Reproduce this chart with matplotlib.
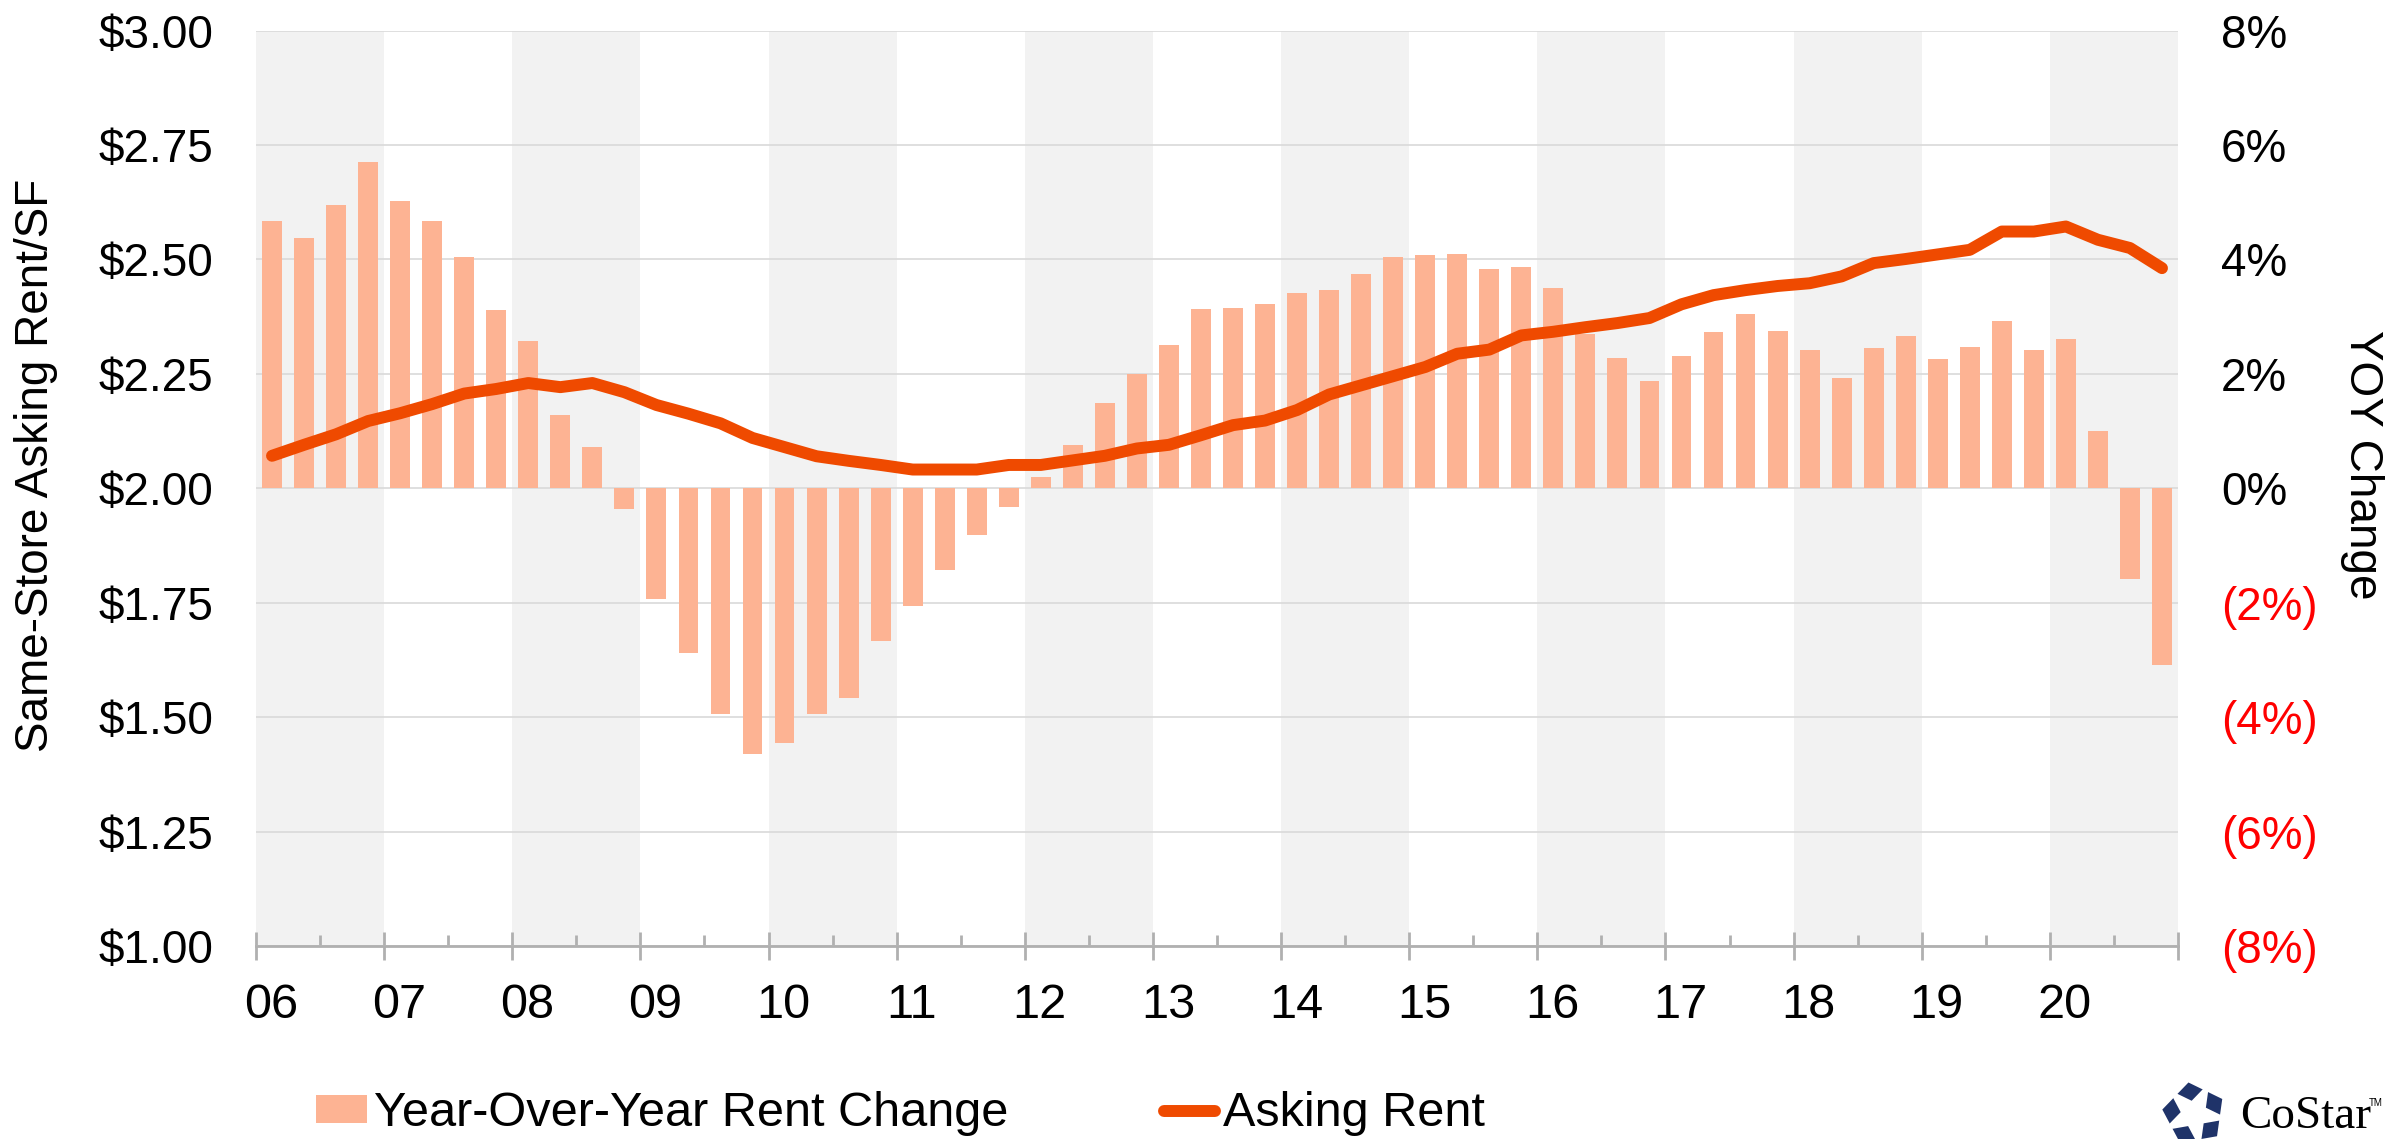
import numpy as np
import matplotlib.pyplot as plt
import matplotlib.transforms as mtransforms
from matplotlib.patches import Patch, Polygon
from matplotlib.lines import Line2D

plt.rcParams['font.family'] = ['Liberation Sans', 'DejaVu Sans']

years = ["06", "07", "08", "09", "10", "11", "12", "13", "14", "15",
         "16", "17", "18", "19", "20"]

# quarterly year-over-year rent change, %
yoy_change = [4.68, 4.37, 4.95, 5.70,
              5.03, 4.68, 4.04, 3.12,
              2.58, 1.28, 0.73, -0.37,
              -1.93, -2.88, -3.95, -4.64,
              -4.46, -3.95, -3.66, -2.67,
              -2.05, -1.43, -0.81, -0.32,
              0.20, 0.76, 1.49, 2.00,
              2.51, 3.13, 3.16, 3.22,
              3.41, 3.47, 3.74, 4.04,
              4.07, 4.10, 3.84, 3.86,
              3.50, 2.70, 2.28, 1.87,
              2.31, 2.74, 3.04, 2.75,
              2.42, 1.93, 2.46, 2.66,
              2.26, 2.47, 2.93, 2.42,
              2.61, 1.01, -1.58, -3.08]

# quarterly same-store asking rent, $/SF
asking_rent = [2.071, 2.095, 2.118, 2.147,
               2.164, 2.184, 2.207, 2.217,
               2.230, 2.221, 2.230, 2.210,
               2.182, 2.163, 2.142, 2.110,
               2.090, 2.070, 2.060, 2.051,
               2.041, 2.041, 2.041, 2.051,
               2.051, 2.061, 2.071, 2.087,
               2.095, 2.116, 2.138, 2.148,
               2.171, 2.205, 2.225, 2.245,
               2.265, 2.294, 2.303, 2.334,
               2.342, 2.352, 2.361, 2.372,
               2.402, 2.422, 2.433, 2.442,
               2.448, 2.463, 2.492, 2.501,
               2.511, 2.521, 2.561, 2.561,
               2.572, 2.543, 2.525, 2.481]

pct_ticks = [-8, -6, -4, -2, 0, 2, 4, 6, 8]
rent_ticks = [1.00, 1.25, 1.50, 1.75, 2.00, 2.25, 2.50, 2.75, 3.00]

bar_color = '#fdb393'
line_color = '#ef4a00'
axis_gray = '#b0b0b0'

x = np.arange(len(yoy_change)) + 0.5

fig = plt.figure(figsize=(23.92, 11.39), dpi=100)
ax = fig.add_axes([256 / 2392, 1 - 946 / 1139, 1922 / 2392, 915.4 / 1139])
ax2 = ax.twinx()

# alternating year bands
for i in range(len(years)):
    if i % 2 == 0:
        ax.axvspan(4 * i, 4 * i + 4, color='#f2f2f2', lw=0, zorder=0)

ax.bar(x, yoy_change, width=0.62, color=bar_color, zorder=2)
ax.set_xlim(0, 4 * len(years))
ax.set_ylim(-8, 8)
ax.set_yticks(pct_ticks)
ax.set_yticklabels([f"{v}%" if v >= 0 else f"({-v}%)" for v in pct_ticks])
ax.yaxis.tick_right()
for tick, v in zip(ax.yaxis.get_major_ticks(), pct_ticks):
    tick.label2.set_color('#ff0000' if v < 0 else 'black')
ax.grid(axis='y', color='#d9d9d9', lw=1.2)
ax.set_axisbelow(True)

ax2.plot(x, asking_rent, color=line_color, lw=8.6,
         solid_capstyle='round', solid_joinstyle='round')
ax2.set_ylim(1.0, 3.0)
ax2.set_yticks(rent_ticks)
ax2.set_yticklabels([f"${v:.2f}" for v in rent_ticks])
ax2.yaxis.tick_left()

ax.tick_params(axis='y', length=0, pad=31, labelsize=33)
ax2.tick_params(axis='y', length=0, pad=31, labelsize=33)

ax.set_xticks(np.arange(0, 4 * len(years) + 1, 4))
ax.set_xticklabels(years + [""])
ax.set_xticks(np.arange(2, 4 * len(years), 4), minor=True)
ax.tick_params(axis='x', which='major', direction='inout', length=19.7,
               width=2, color=axis_gray, labelsize=35, pad=17)
ax.tick_params(axis='x', which='minor', direction='in', length=8,
               width=2, color=axis_gray)
offset = mtransforms.ScaledTranslation(15 / 100, 0, fig.dpi_scale_trans)
for lab in ax.xaxis.get_majorticklabels():
    lab.set_transform(lab.get_transform() + offset)

for s in ['top', 'left', 'right']:
    ax.spines[s].set_visible(False)
ax.spines['bottom'].set_color(axis_gray)
ax.spines['bottom'].set_linewidth(2)
for s in ax2.spines.values():
    s.set_visible(False)

fig.text(36 / 2392, 1 - 465 / 1139, 'Same-Store Asking Rent/SF', rotation=90,
         ha='center', va='center', fontsize=33)
fig.text(2362 / 2392, 1 - 465 / 1139, 'YOY Change', rotation=270,
         ha='center', va='center', fontsize=33)

handles = [Patch(facecolor=bar_color, label='Year-Over-Year Rent Change'),
           Line2D([], [], color=line_color, lw=8.6, solid_capstyle='round',
                  label='Asking Rent')]
fig.legend(handles=handles, loc='center left',
           bbox_to_anchor=(316 / 2392, 1 - 1114 / 1139), ncol=2, frameon=False,
           fontsize=35, handlelength=1.05, handleheight=0.5, handletextpad=0.15,
           columnspacing=3.2, borderpad=0, borderaxespad=0)

# CoStar logo
lax = fig.add_axes([2150 / 2392, 0, 90 / 2392, 90 / 1139])
lax.set_xlim(2150, 2240)
lax.set_ylim(1139, 1049)
lax.axis('off')
cx, cy, R = 2194, 1114, 32
ang = np.deg2rad(100 + 72 * np.arange(5))
pent = np.column_stack([cx + R * np.cos(ang), cy - R * np.sin(ang)])
lax.add_patch(Polygon(pent, closed=True, color='#1f3369', lw=0))
star = []
for k in range(5):
    a_in = np.deg2rad(100 + 72 * k)
    a_out = np.deg2rad(136 + 72 * k)
    star.append((cx + 0.42 * R * np.cos(a_in), cy - 0.42 * R * np.sin(a_in)))
    star.append((cx + 1.1 * R * np.cos(a_out), cy - 1.1 * R * np.sin(a_out)))
lax.add_patch(Polygon(star, closed=True, color='white', lw=0))
fig.text(2240 / 2392, 1 - 1128 / 1139, 'CoStar', fontsize=34,
         family=['Liberation Serif', 'DejaVu Serif'], va='baseline',
         color='black')
fig.text(2369 / 2392, 1 - 1106 / 1139, 'TM', fontsize=7,
         va='baseline', color='black')

fig.savefig('out.png', dpi=100)
